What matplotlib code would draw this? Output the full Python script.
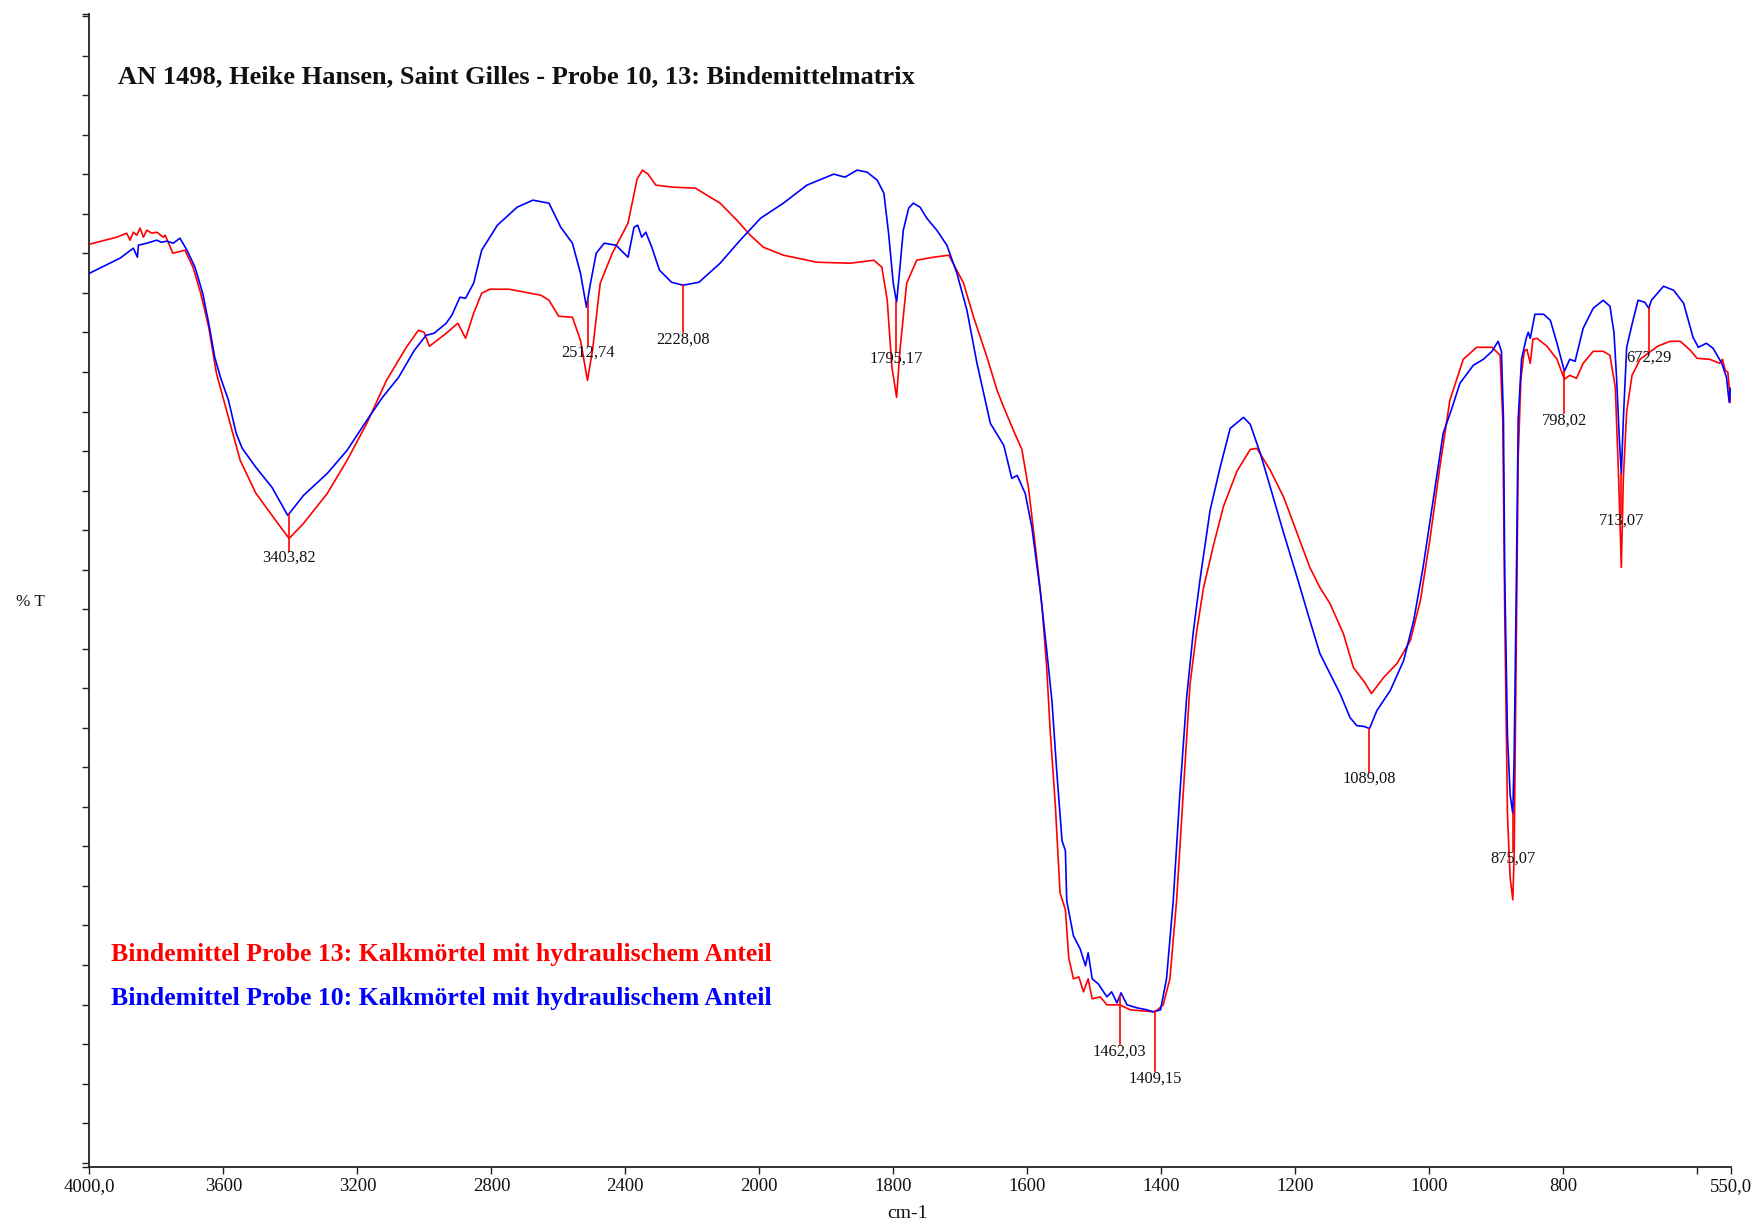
import numpy as np
import matplotlib
matplotlib.use("Agg")
import matplotlib.pyplot as plt

plt.rcParams['font.family'] = ['Liberation Serif', 'DejaVu Serif']

# ---------------- data ----------------
red_wn = [4000, 3919, 3889, 3879, 3869, 3859, 3849, 3839, 3829, 3814, 3799, 3780, 3774, 3751, 3715,
          3691, 3668, 3644, 3621, 3585, 3550, 3503, 3444, 3404, 3361, 3290, 3231, 3172, 3113, 3054,
          3018, 3001, 2985, 2935, 2900, 2877, 2853, 2829, 2805, 2747, 2652, 2628, 2599, 2558, 2534,
          2513, 2498, 2475, 2439, 2392, 2378, 2365, 2349, 2332, 2309, 2258, 2191, 2117, 2067, 2027,
          1994, 1964, 1914, 1864, 1829, 1817, 1809, 1802, 1795, 1790, 1780, 1765, 1740, 1717, 1695,
          1680, 1660, 1645, 1635, 1618, 1608, 1598, 1588, 1578, 1571, 1566, 1558, 1551, 1543, 1538,
          1531, 1523, 1516, 1509, 1503, 1491, 1481, 1462, 1446, 1409, 1397, 1387, 1377, 1367, 1357,
          1347, 1337, 1322, 1307, 1287, 1267, 1257, 1237, 1217, 1197, 1178, 1163, 1148, 1128, 1113,
          1096, 1086, 1068, 1048, 1028, 1013, 999, 984, 969, 949, 929, 906, 894, 890, 887,
          883, 879, 875, 873, 870, 867, 863, 858, 854, 849, 845, 839, 824, 809, 798,
          790, 780, 770, 755, 740, 730, 722, 717, 713, 710, 705, 697, 685, 671, 659,
          640, 625, 610, 600, 581, 566, 562, 558, 554, 550]
red_t = [92.2, 92.9, 93.3, 92.6, 93.4, 93.1, 93.8, 92.9, 93.6, 93.3, 93.4, 92.9, 93.1, 91.3, 91.6,
         89.9, 87.3, 83.9, 79.3, 74.9, 70.6, 67.3, 64.6, 62.8, 64.3, 67.3, 70.6, 74.3, 78.6, 81.9,
         83.6, 83.4, 82.0, 83.3, 84.3, 82.8, 85.3, 87.3, 87.7, 87.7, 87.1, 86.6, 85.0, 84.9, 82.6,
         78.6, 81.6, 88.3, 91.3, 94.3, 96.6, 98.7, 99.6, 99.2, 98.1, 97.9, 97.8, 96.3, 94.6, 93.1,
         91.9, 91.1, 90.4, 90.3, 90.6, 89.9, 86.6, 79.9, 76.9, 81.6, 88.3, 90.6, 90.9, 91.1, 88.3,
         84.9, 80.9, 77.6, 75.9, 73.2, 71.7, 67.8, 62.1, 56.1, 50.0, 43.9, 36.1, 27.4, 25.7, 20.9,
         18.8, 19.0, 17.5, 18.8, 16.8, 17.0, 16.2, 16.2, 15.7, 15.5, 16.2, 18.8, 26.6, 37.4, 48.2,
         53.5, 57.8, 62.1, 66.0, 69.5, 71.7, 71.8, 69.6, 66.9, 63.3, 59.9, 57.9, 56.3, 53.3, 49.9,
         48.4, 47.3, 48.9, 50.3, 52.6, 56.6, 62.6, 69.9, 76.6, 80.7, 81.9, 81.9, 81.1, 74.7, 55.0,
         35.2, 28.9, 26.7, 31.2, 51.0, 70.8, 78.7, 81.5, 81.7, 80.3, 82.7, 82.8, 82.0, 80.7, 78.7,
         79.1, 78.8, 80.3, 81.5, 81.5, 81.1, 77.9, 68.8, 59.9, 68.8, 75.5, 79.1, 80.7, 81.4, 82.0,
         82.5, 82.5, 81.6, 80.8, 80.7, 80.3, 80.7, 79.6, 79.4, 76.4]

blue_wn = [4000, 3909, 3869, 3857, 3854, 3829, 3799, 3786, 3769, 3750, 3730, 3709, 3685, 3662, 3644,
           3626, 3609, 3585, 3562, 3544, 3503, 3455, 3408, 3361, 3290, 3231, 3172, 3125, 3077, 3030,
           2995, 2971, 2935, 2918, 2894, 2877, 2853, 2829, 2782, 2723, 2676, 2628, 2593, 2558, 2534,
           2516, 2504, 2487, 2463, 2428, 2392, 2374, 2363, 2351, 2339, 2321, 2298, 2262, 2228, 2180,
           2147, 2117, 2057, 1998, 1964, 1929, 1889, 1872, 1854, 1839, 1824, 1814, 1807, 1800, 1795,
           1790, 1785, 1777, 1770, 1760, 1750, 1735, 1720, 1705, 1690, 1675, 1655, 1635, 1623, 1615,
           1603, 1593, 1581, 1571, 1563, 1556, 1548, 1543, 1541, 1531, 1521, 1513, 1509, 1503, 1494,
           1481, 1474, 1466, 1460, 1451, 1436, 1421, 1412, 1401, 1392, 1382, 1372, 1362, 1352, 1342,
           1327, 1312, 1297, 1277, 1267, 1252, 1237, 1217, 1197, 1178, 1163, 1148, 1133, 1118, 1108,
           1096, 1089, 1078, 1058, 1038, 1023, 1009, 994, 979, 966, 954, 934, 919, 906, 897,
           892, 889, 887, 883, 879, 875, 873, 870, 867, 862, 855, 852, 849, 842, 829,
           819, 809, 798, 790, 782, 770, 755, 740, 730, 724, 720, 716, 713, 710, 705,
           697, 688, 678, 672, 668, 650, 635, 620, 606, 598, 586, 576, 563, 556, 552, 550]
blue_t = [89.3, 90.8, 91.8, 90.9, 92.1, 92.3, 92.6, 92.4, 92.5, 92.3, 92.8, 91.6, 89.9, 87.3, 84.3,
          80.9, 78.9, 76.6, 73.3, 71.8, 69.9, 67.9, 65.1, 67.1, 69.3, 71.6, 74.6, 76.9, 78.9, 81.6,
          83.1, 83.3, 84.3, 85.1, 86.9, 86.8, 88.3, 91.6, 94.1, 95.9, 96.6, 96.3, 93.9, 92.3, 89.3,
          85.9, 88.3, 91.3, 92.3, 92.1, 90.9, 93.9, 94.1, 92.9, 93.4, 91.9, 89.6, 88.4, 88.1, 88.4,
          89.4, 90.3, 92.6, 94.8, 96.3, 98.1, 99.2, 98.9, 99.6, 99.4, 98.6, 97.3, 93.3, 88.3, 86.4,
          89.9, 93.6, 95.8, 96.3, 95.9, 94.8, 93.6, 92.1, 89.3, 85.6, 80.3, 74.3, 72.1, 68.8, 69.1,
          67.3, 63.9, 57.8, 51.7, 46.5, 39.6, 32.6, 31.6, 26.6, 23.1, 21.8, 20.1, 21.4, 18.8, 18.3,
          17.0, 17.5, 16.4, 17.4, 16.2, 15.9, 15.7, 15.5, 15.7, 18.8, 26.6, 37.4, 46.9, 53.5, 58.7,
          65.6, 69.9, 73.8, 74.9, 74.2, 71.3, 67.9, 63.3, 58.9, 54.6, 51.3, 49.3, 47.3, 44.9, 44.1,
          44.0, 43.8, 45.6, 47.6, 50.6, 54.6, 59.9, 66.6, 73.3, 75.8, 78.3, 80.1, 80.7, 81.5, 82.5,
          81.5, 74.7, 58.9, 43.1, 37.2, 35.3, 41.1, 56.9, 74.7, 80.7, 82.8, 83.4, 82.8, 85.2, 85.2,
          84.6, 82.3, 79.5, 80.7, 80.5, 83.8, 85.8, 86.6, 86.0, 83.4, 78.7, 72.8, 69.2, 74.7, 81.9,
          84.2, 86.6, 86.4, 85.8, 86.6, 88.0, 87.6, 86.3, 82.9, 81.9, 82.3, 81.8, 80.3, 78.9, 76.4, 77.8]

peak_wn = [3403.82, 2512.74, 2228.08, 1795.17, 1462.03, 1409.15, 1089.08, 875.07, 798.02, 713.07, 672.29]
peak_labels = ["3403,82", "2512,74", "2228,08", "1795,17", "1462,03", "1409,15",
               "1089,08", "875,07", "798,02", "713,07", "672,29"]

xtick_values = [4000, 3600, 3200, 2800, 2400, 2000, 1800, 1600, 1400, 1200, 1000, 800, 600, 550]
xtick_labels = ["4000,0", "3600", "3200", "2800", "2400", "2000", "1800", "1600", "1400",
                "1200", "1000", "800", "", "550,0"]

title_text = "AN 1498, Heike Hansen, Saint Gilles - Probe 10, 13: Bindemittelmatrix"
legend_red = "Bindemittel Probe 13: Kalkmörtel mit hydraulischem Anteil"
legend_blue = "Bindemittel Probe 10: Kalkmörtel mit hydraulischem Anteil"

# ---------------- layout / style ----------------
label_drop = [3.7, 4.5, 4.7, 5.0, 4.8, 6.0, 4.3, 3.8, 4.2, 4.0, 4.3]
RED = "#ff0000"
BLUE = "#0000ff"


def fwd(x):
    x = np.asarray(x, dtype=float)
    return np.where(x > 2000, 2000 + (x - 2000) / 2.0, x)


def inv(u):
    u = np.asarray(u, dtype=float)
    return np.where(u > 2000, 2000 + (u - 2000) * 2.0, u)


fig = plt.figure(figsize=(17.58, 12.24), dpi=100)
ax = fig.add_axes([0.05091, 0.04657, 0.93345, 0.94240])
ax.set_xscale('function', functions=(fwd, inv))
ax.set_xlim(4000, 550)
ymax = 115.25
ax.set_ylim(0, ymax)

ax.plot(red_wn, red_t, color=RED, lw=1.2, zorder=3)
ax.plot(blue_wn, blue_t, color=BLUE, lw=1.2, zorder=4)

bw = np.array(blue_wn[::-1], dtype=float)
bt = np.array(blue_t[::-1], dtype=float)
for wn, lab, d in zip(peak_wn, peak_labels, label_drop):
    ytop = float(np.interp(wn, bw, bt))
    ax.plot([wn, wn], [ytop, ytop - d], color=RED, lw=1.2, zorder=5)
    ax.text(wn, ytop - d + 0.1, lab, ha='center', va='top', fontsize=11.8, color='#111111', zorder=6)

# axes styling
for s in ['top', 'right']:
    ax.spines[s].set_visible(False)
for s in ['left', 'bottom']:
    ax.spines[s].set_linewidth(1.3)
    ax.spines[s].set_color('#222222')

ax.set_xticks(xtick_values)
ax.set_xticklabels(xtick_labels)
ax.xaxis.set_minor_locator(matplotlib.ticker.NullLocator())
ytick_pos = [0.0] + list(0.43 + 3.95 * np.arange(30)) + [ymax]
ax.set_yticks(ytick_pos)
ax.set_yticklabels([])
ax.yaxis.set_minor_locator(matplotlib.ticker.NullLocator())
ax.tick_params(axis='both', direction='out', length=5, width=1.0, color='#222222')
ax.tick_params(axis='x', labelsize=13.5, pad=3, labelcolor='#111111')

# title and legend-like text
ax.text(0.0172, 0.9449, title_text, transform=ax.transAxes, ha='left', va='center',
        fontsize=19, fontweight='bold', color='#111111')
ax.text(0.0131, 0.184, legend_red, transform=ax.transAxes, ha='left', va='center',
        fontsize=18.5, fontweight='bold', color=RED)
ax.text(0.0131, 0.146, legend_blue, transform=ax.transAxes, ha='left', va='center',
        fontsize=18.5, fontweight='bold', color=BLUE)

fig.text(30 / 1758, 1 - 602 / 1224, "% T", ha='center', va='center', fontsize=12.3, color='#111111')
fig.text(908 / 1758, 1 - 1213 / 1224, "cm-1", ha='center', va='center', fontsize=14, color='#111111')

fig.savefig("out.png", dpi=100)
